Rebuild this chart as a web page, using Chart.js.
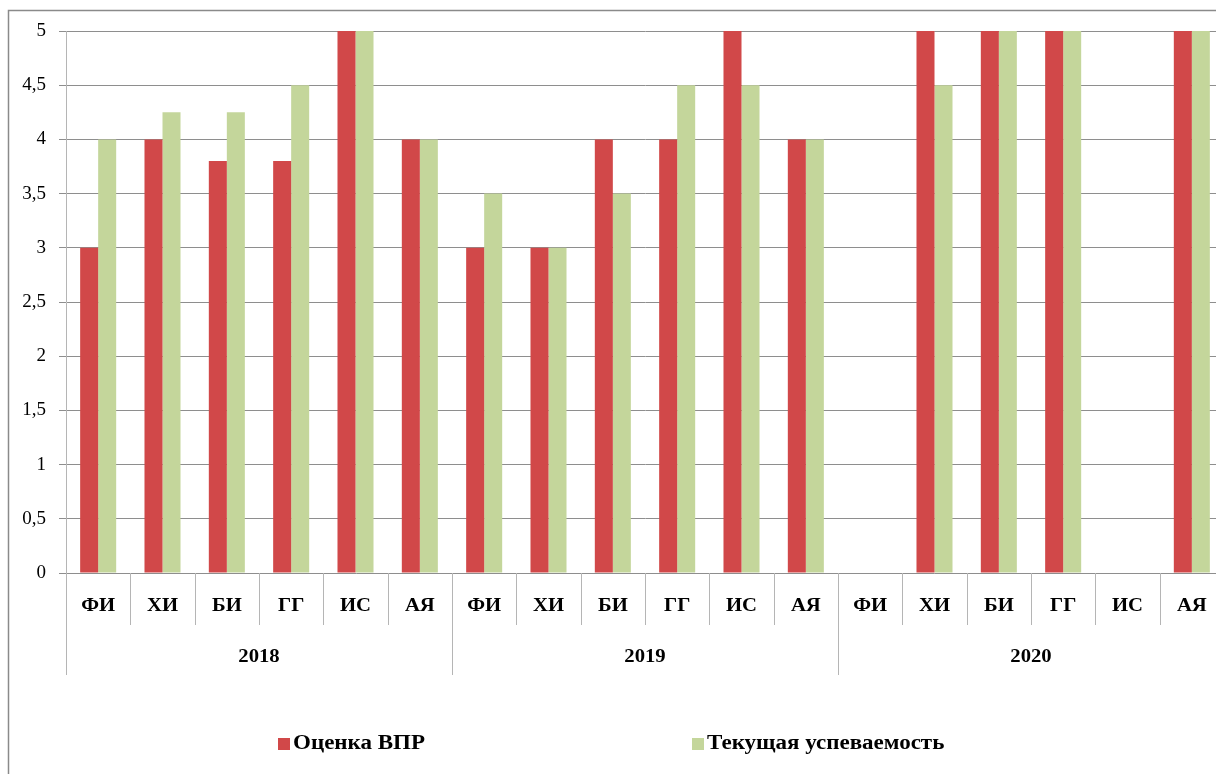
<!DOCTYPE html>
<html>
<head>
<meta charset="utf-8">
<script src="https://cdn.jsdelivr.net/npm/chart.js@4"></script>
<style>
  html, body { margin: 0; padding: 0; overflow: hidden; background: #fff; }
  #wrap { width: 1250px; height: 800px; }
</style>
</head>
<body>
<div id="wrap"><canvas id="vprChart" width="1250" height="800"></canvas></div>
<script>
// subjects repeated for every year
const years = ['2018', '2019', '2020'];
const subjects = ['ФИ', 'ХИ', 'БИ', 'ГГ', 'ИС', 'АЯ'];
const labels = [].concat(subjects, subjects, subjects);

const vprScores = [3, 4, 3.8, 3.8, 5, 4,
                   3, 3, 4, 4, 5, 4,
                   null, 5, 5, 5, null, 5];
const currentScores = [4, 4.25, 4.25, 4.5, 5, 4,
                       3.5, 3, 3.5, 4.5, 4.5, 4,
                       null, 4.5, 5, 5, null, 5];

const RED = 'rgb(209, 72, 73)';
const GREEN = 'rgb(196, 214, 155)';
const GRID = '#8e8e8e';
const SERIF = '"Liberation Serif", "Times New Roman", serif';
const STRETCH = 1.15; // the original picture is a bit wider than tall

function wideText(c, txt, x, y) {
    c.save();
    c.translate(x, y);
    c.scale(STRETCH, 1);
    c.fillText(txt, 0, 0);
    c.restore();
}

// draws the frame, the two-level category labels and the legend
const excelLook = {
    id: 'excelLook',
    beforeDraw(chart) {
        const c = chart.ctx;
        c.save();
        c.strokeStyle = '#8a8a8a';
        c.lineWidth = 1.5;
        c.beginPath();
        c.moveTo(8.5, 900);
        c.lineTo(8.5, 10.5);
        c.lineTo(1240, 10.5);
        c.stroke();
        c.restore();
    },
    afterDraw(chart) {
        const c = chart.ctx;
        const x = chart.scales.x;
        const area = chart.chartArea;
        const half = (x.getPixelForValue(1) - x.getPixelForValue(0)) / 2;

        c.save();
        c.strokeStyle = '#b5b5b5';
        c.lineWidth = 1;
        for (let i = 0; i <= labels.length; i++) {
            const px = Math.round(i < labels.length ? x.getPixelForValue(i) - half : x.getPixelForValue(i - 1) + half) + 0.5;
            c.beginPath();
            c.moveTo(px, area.bottom);
            c.lineTo(px, i % 6 === 0 ? area.bottom + 102 : area.bottom + 52);
            c.stroke();
        }

        c.fillStyle = '#000';
        c.textAlign = 'center';
        c.textBaseline = 'middle';
        c.font = 'bold 18px ' + SERIF;
        labels.forEach((lab, i) => {
            wideText(c, lab, x.getPixelForValue(i), area.bottom + 33);
        });
        years.forEach((yr, g) => {
            const cx = (x.getPixelForValue(g * 6) + x.getPixelForValue(g * 6 + 5)) / 2;
            wideText(c, yr, cx, area.bottom + 84);
        });

        // legend
        const legendY = 744;
        const items = [
            { x: 278, ds: chart.data.datasets[0] },
            { x: 692, ds: chart.data.datasets[1] }
        ];
        c.textAlign = 'left';
        c.font = 'bold 20px ' + SERIF;
        items.forEach(it => {
            c.fillStyle = it.ds.backgroundColor;
            c.fillRect(it.x, legendY - 6, 12, 12);
            c.fillStyle = '#000';
            wideText(c, it.ds.label, it.x + 15, legendY);
        });
        c.restore();
    }
};

const ctx = document.getElementById('vprChart').getContext('2d');
const vprChart = new Chart(ctx, {
    type: 'bar',
    data: {
        labels: labels,
        datasets: [
            {
                label: 'Оценка ВПР',
                data: vprScores,
                backgroundColor: RED,
                categoryPercentage: 0.56,
                barPercentage: 1.0
            },
            {
                label: 'Текущая успеваемость',
                data: currentScores,
                backgroundColor: GREEN,
                categoryPercentage: 0.56,
                barPercentage: 1.0
            }
        ]
    },
    options: {
        responsive: false,
        animation: false,
        layout: {
            padding: { top: 31, right: 26, left: 0, bottom: 0 }
        },
        scales: {
            x: {
                ticks: { display: false },
                grid: { display: false },
                border: { display: false },
                afterFit(scale) { scale.height = 227; }
            },
            y: {
                min: 0,
                max: 5,
                ticks: {
                    stepSize: 0.5,
                    padding: 13,
                    color: '#000',
                    font: { family: SERIF, size: 19 },
                    callback: v => String(v).replace('.', ',')
                },
                grid: {
                    color: GRID,
                    tickColor: GRID,
                    tickLength: 7
                },
                border: { color: '#b5b5b5' },
                afterFit(scale) { scale.width = 66; }
            }
        },
        plugins: {
            legend: { display: false },
            tooltip: { enabled: false }
        }
    },
    plugins: [excelLook]
});
</script>
</body>
</html>
